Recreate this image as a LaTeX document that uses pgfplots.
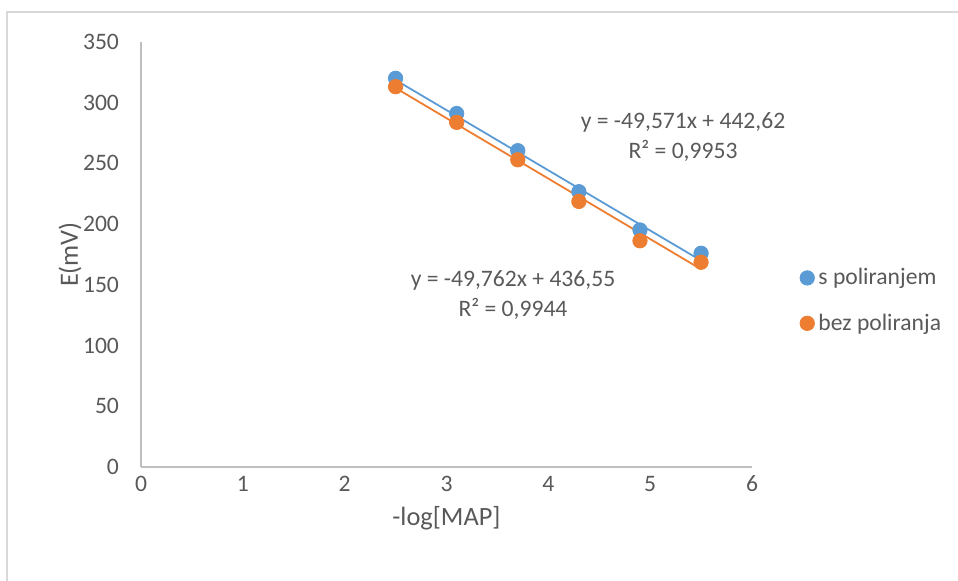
\documentclass[border=0pt]{standalone}
\usepackage{fontspec}
\setmainfont{Carlito}
\usepackage{pgfplots}
\pgfplotsset{compat=1.18}
\usetikzlibrary{calc}
\definecolor{sblue}{HTML}{5B9BD5}
\definecolor{sorange}{HTML}{ED7D31}
\definecolor{txt}{HTML}{595959}
\definecolor{axl}{HTML}{BFBFBF}
\definecolor{frm}{HTML}{D9D9D9}
\begin{document}
\begin{tikzpicture}
\begin{axis}[
  name=ax,
  at={(0pt,0pt)}, anchor=south west,
  scale only axis,
  width=305.5pt, height=212.5pt,
  xmin=0, xmax=6, ymin=0, ymax=350,
  xtick={0,1,2,3,4,5,6}, ytick={0,50,...,350},
  axis lines*=left,
  axis line style={axl, line width=0.6pt, -},
  major tick length=0pt,
  tick label style={font=\fontsize{11.8}{14}\selectfont, text=txt},
  /pgf/number format/assume math mode=true,
  xticklabel style={yshift=-1pt},
  yticklabel style={xshift=-7.5pt},
  xlabel={-log[MAP]}, ylabel={E(mV)},
  every axis x label/.style={at={(axis description cs:0.5,-0.12)}, anchor=center, font=\fontsize{13.2}{15}\selectfont, text=txt},
  every axis y label/.style={at={(axis description cs:-0.1162,0.5)}, anchor=center, rotate=90, font=\fontsize{13.2}{15}\selectfont, text=txt},
  clip=false,
  legend style={draw=none, fill=none, at={(axis description cs:1.078,0.478)}, anchor=north west,
    font=\fontsize{11.8}{14}\selectfont, text=txt, row sep=9pt,
    inner sep=0pt},
  legend cell align=left,
  legend image code/.code={\draw[#1] plot coordinates {(0.12cm,0cm)};},
]
\addplot[only marks, mark=*, mark size=3.6pt, sblue, mark options={draw=sblue, fill=sblue}]
  coordinates {(2.5,320.1) (3.1,291.1) (3.7,260.5) (4.3,226.7) (4.9,195.2) (5.5,176.0)};
\addlegendentry{s poliranjem}
\addplot[only marks, mark=*, mark size=3.6pt, sorange, mark options={draw=sorange, fill=sorange}]
  coordinates {(2.5,313.2) (3.1,283.8) (3.7,253.0) (4.3,218.7) (4.9,186.3) (5.5,168.6)};
\addlegendentry{bez poliranja}
\addplot[sblue, line width=0.9pt, forget plot] coordinates {(2.5,318.69) (5.5,169.98)};
\addplot[sorange, line width=0.9pt, forget plot] coordinates {(2.5,312.145) (5.5,162.859)};
\node[align=center, text=txt, font=\fontsize{11.8}{15}\selectfont] at (axis cs:5.323,271.8)
  {y = -49,571x + 442,62\\R² = 0,9953};
\node[align=center, text=txt, font=\fontsize{11.8}{15}\selectfont] at (axis cs:3.653,141.6)
  {y = -49,762x + 436,55\\R² = 0,9944};
\end{axis}
\useasboundingbox ($(ax.south west)+(-70.5pt,-57pt)$) rectangle ($(ax.south west)+(408.5pt,233.5pt)$);
\draw[frm, line width=0.8pt] ($(ax.south west)+(-67pt,-57pt)$) -- ($(ax.south west)+(-67pt,227.5pt)$) -- ($(ax.south west)+(408.5pt,227.5pt)$);
\end{tikzpicture}
\end{document}
